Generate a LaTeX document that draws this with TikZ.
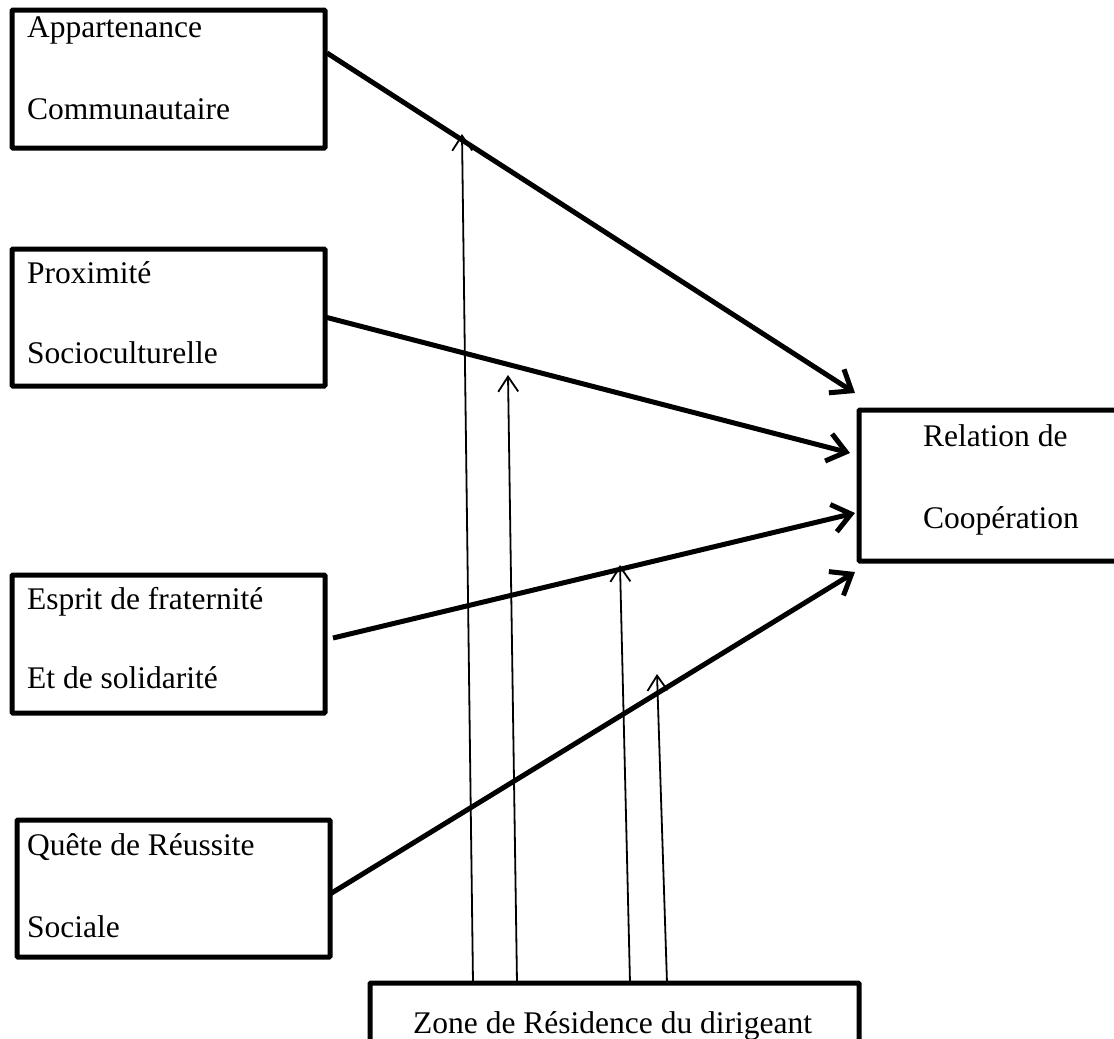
\documentclass[tikz,border=0pt]{standalone}
\usepackage{fontspec}
\setmainfont{Liberation Serif}
\usetikzlibrary{arrows.meta}
\begin{document}
\begin{tikzpicture}[x=1pt,y=-1pt,
  box/.style={draw, line width=5pt, rounded corners=1pt, rectangle, inner sep=0pt, outer sep=0pt, anchor=north west},
  txt/.style={font=\fontsize{31.5}{36}\selectfont, inner sep=0pt, anchor=base west},
  bigarrow/.style={line width=5pt, -{Straight Barb[length=18pt,width=28pt]}},
  thinarrow/.style={line width=1.8pt, -{Straight Barb[length=15pt,width=20pt]}}]
\useasboundingbox (0,0) rectangle (1114,1039);
\clip (0,0) rectangle (1114,1039);
\fill[white] (0,0) rectangle (1114,1039);
% boxes
\node[box, minimum width=313pt, minimum height=138pt] (b1) at (12,10) {};
\node[box, minimum width=313pt, minimum height=137pt] (b2) at (12,249) {};
\node[box, minimum width=313pt, minimum height=138pt] (b3) at (12,575) {};
\node[box, minimum width=313pt, minimum height=137pt] (b4) at (17,820) {};
\node[box, minimum width=300pt, minimum height=151pt] (rel) at (859,410) {};
\node[box, minimum width=489pt, minimum height=100pt] (zone) at (370,983) {};
% texts
\node[txt] (t1a) at (27,37) {Appartenance};
\node[txt] (t1b) at (27,119) {Communautaire};
\node[txt] (t2a) at (27,283) {Proximité};
\node[txt] (t2b) at (27,363) {Socioculturelle};
\node[txt] (t3a) at (27,609) {Esprit de fraternité};
\node[txt] (t3b) at (27,688) {Et de solidarité};
\node[txt] (t4a) at (27,855) {Quête de Réussite};
\node[txt] (t4b) at (27,937) {Sociale};
\node[txt] (tra) at (923,446) {Relation de};
\node[txt] (trb) at (923,528) {Coopération};
\node[txt] (tz) at (413,1033) {Zone de Résidence du dirigeant};
% coordinates
\coordinate (s1) at (327,53);
\coordinate (s2) at (325,317);
\coordinate (s3) at (333,638);
\coordinate (s4) at (330,894);
\coordinate (e1) at (855,393);
\coordinate (e2) at (850,453);
\coordinate (e3) at (855,513);
\coordinate (e4) at (855,572);
\coordinate (za) at (473,983);
\coordinate (zb) at (517,983);
\coordinate (zc) at (630,983);
\coordinate (zd) at (667,983);
\coordinate (ta) at (462,134);
\coordinate (tb) at (508,375);
\coordinate (tc) at (620,565);
\coordinate (td) at (657,674);
% thick arrows
\draw[bigarrow] (s1) -- (e1);
\draw[bigarrow] (s2) -- (e2);
\draw[bigarrow] (s3) -- (e3);
\draw[bigarrow] (s4) -- (e4);
% thin arrows
\draw[thinarrow] (za) -- (ta);
\draw[thinarrow] (zb) -- (tb);
\draw[thinarrow] (zc) -- (tc);
\draw[thinarrow] (zd) -- (td);
\end{tikzpicture}
\end{document}
